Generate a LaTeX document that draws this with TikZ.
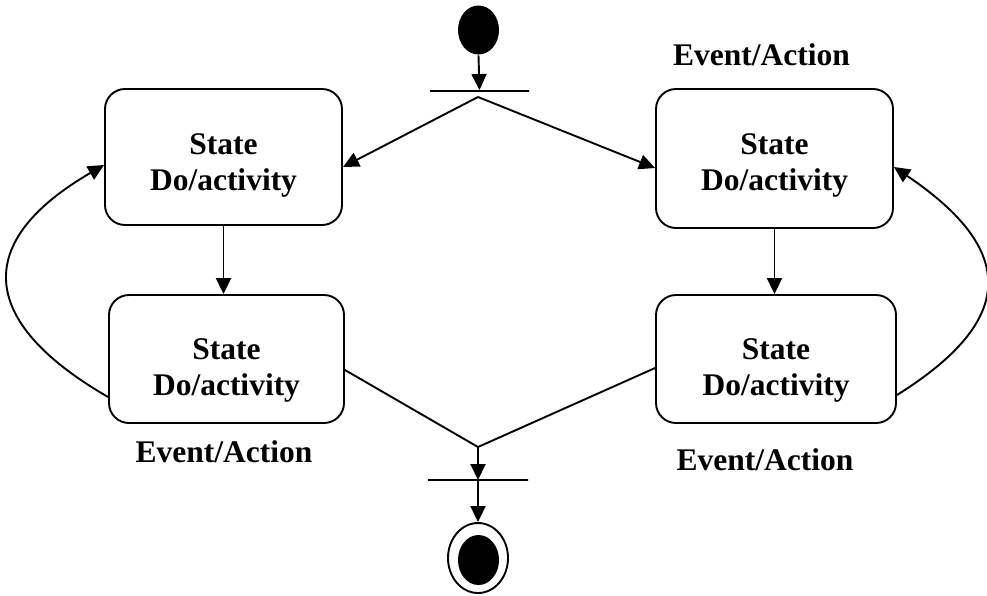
\documentclass[tikz,border=0pt]{standalone}
\usepackage{fontspec}
\setmainfont{Liberation Serif}
\usetikzlibrary{shapes.geometric,arrows.meta,calc}
\begin{document}
\begin{tikzpicture}[x=1pt,y=-1pt,
  line width=1.9pt,
  arr/.style={-{Triangle[length=16pt,width=15pt]}},
  statebox/.style={draw,rounded corners=20pt,align=center,inner sep=0pt,
    font=\fontsize{31.5pt}{36pt}\selectfont\bfseries,text depth=7pt},
  lbl/.style={font=\fontsize{31.5pt}{36pt}\selectfont\bfseries,anchor=base,inner sep=0pt},
  bar/.style={draw,rectangle,inner sep=0pt,minimum height=0pt},
  dot/.style={ellipse,fill=black,inner sep=0pt}
]
\useasboundingbox (0,0) rectangle (987,595);

\node[dot,minimum width=41pt,minimum height=49pt] (init) at (478.5,30) {};
\node[bar,minimum width=99pt] (fork) at (479.5,91) {};
\coordinate (forkout) at (478,97);

\node[statebox,minimum width=237pt,minimum height=136pt,text height=73pt] (L1) at (223.5,157) {State\\Do/activity};
\node[statebox,minimum width=237pt,minimum height=139pt,text height=70pt] (R1) at (774.5,158.5) {State\\Do/activity};
\node[statebox,minimum width=235pt,minimum height=128pt,text height=79pt] (L2) at (226.5,359) {State\\Do/activity};
\node[statebox,minimum width=240pt,minimum height=128pt,text height=79pt] (R2) at (776,359) {State\\Do/activity};

\node[lbl] (e1) at (761.5,65) {Event/Action};
\node[lbl] (e2) at (224,462) {Event/Action};
\node[lbl] (e3) at (765,470) {Event/Action};

\coordinate (join) at (478,447);
\node[bar,minimum width=100pt] (joinbar) at (478,480) {};
\node[ellipse,draw,inner sep=0pt,minimum width=60pt,minimum height=70pt] (final) at (478,558) {};
\node[dot,minimum width=41pt,minimum height=50pt] (finalin) at (478.5,560) {};

\draw[arr] (init.south) -- (fork.north);
\draw[arr] (forkout) -- ([yshift=-10pt]L1.east);
\draw[arr] (forkout) -- ([yshift=-9.5pt]R1.west);
\draw[arr] (L1.south) -- (L1.south |- L2.north);
\draw[arr] (R1.south) -- (R1.south |- R2.north);
\draw[arr] ([yshift=-38pt]L2.west) .. controls (-25,320) and (-25,240) .. ([yshift=-8pt]L1.west);
\draw[arr] ([yshift=-36pt]R2.east) .. controls (1017,320) and (1017,250) .. ([yshift=-8.5pt]R1.east);
\draw ([yshift=-11pt]L2.east) -- (join);
\draw ([yshift=-9pt]R2.west) -- (join);
\draw[arr] (join) -- (joinbar.center);
\draw[arr] (joinbar.center) -- (final.north);
\end{tikzpicture}
\end{document}
